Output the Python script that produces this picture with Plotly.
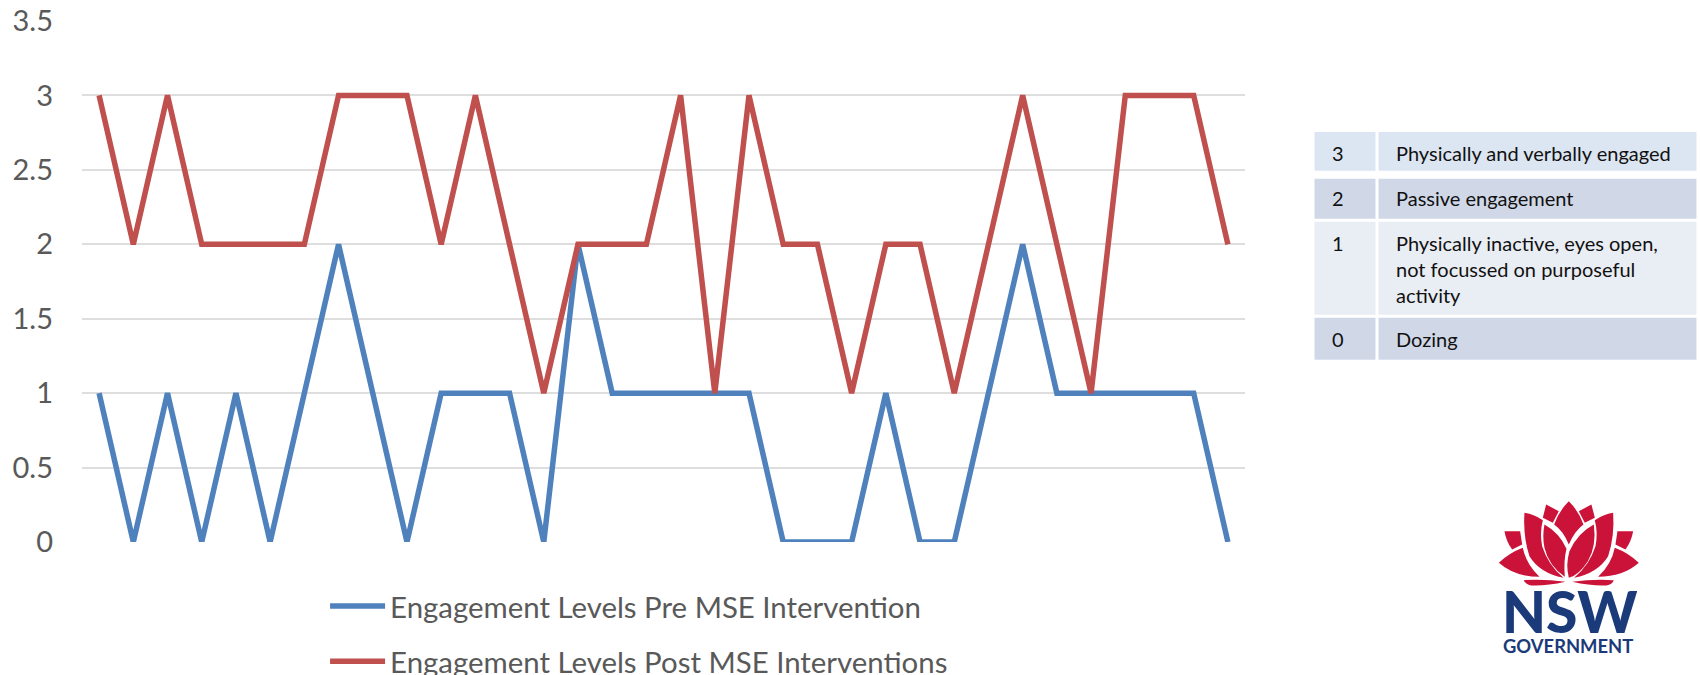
import plotly.graph_objects as go

categories = [str(i) for i in range(1, 35)]
pre_values = [1, 0, 1, 0, 1, 0, 1, 2, 1, 0, 1, 1, 1, 0, 2, 1, 1, 1, 1, 1, 0, 0, 0, 1, 0, 0, 1, 2, 1, 1, 1, 1, 1, 0]
post_values = [3, 2, 3, 2, 2, 2, 2, 3, 3, 3, 2, 3, 2, 1, 2, 2, 2, 3, 1, 3, 2, 2, 1, 2, 2, 1, 2, 3, 2, 1, 3, 3, 3, 2]
pre_name = "Engagement Levels Pre MSE Intervention"
post_name = "Engagement Levels Post MSE Interventions"
y_ticks = [0, 0.5, 1, 1.5, 2, 2.5, 3, 3.5]
y_labels = ["0", "0.5", "1", "1.5", "2", "2.5", "3", "3.5"]
key_scores = ["3", "2", "1", "0"]
key_lines = [["Physically and verbally engaged"], ["Passive engagement"],
             ["Physically inactive, eyes open,", "not focussed on purposeful", "activity"], ["Dozing"]]

W, H = 1700, 675
L, R, T, B = 82.4, 1245.5, 21.0, 542.5
FONT = "Lato"


def px(x):
    return (x - L) / (R - L)


def py(y):
    return (B - y) / (B - T)


def band(x0, y0, x1, y1, color):
    return dict(type="rect", xref="paper", yref="paper", x0=px(x0), x1=px(x1), y0=py(y1), y1=py(y0),
                fillcolor=color, line_width=0, layer="above")


def label(x, y, text, size, color, anchor="left", weight=None, height=None):
    font = dict(family=FONT, size=size, color=color)
    if weight:
        font["weight"] = weight
    note = dict(xref="paper", yref="paper", x=px(x), y=py(y), text=text, showarrow=False,
                xanchor=anchor, yanchor="middle", font=font, borderpad=0, borderwidth=0)
    if height:
        note["height"] = height
    return note


fig = go.Figure()
fig.add_trace(go.Scatter(x=categories, y=pre_values, mode="lines", name=pre_name, legendgroup="a",
                         line=dict(color="#4F81BD", width=5.5, shape="linear")))
fig.add_trace(go.Scatter(x=categories, y=post_values, mode="lines", name=post_name, legendgroup="b",
                         line=dict(color="#C0504D", width=5.5, shape="linear")))

shapes, notes = [], []
rows = [(132, 171, "#DCE6F2", [153]), (179, 219, "#D0D8E8", [198]),
        (222, 315, "#E9EDF4", [243, 269, 295]), (318, 360, "#D0D8E8", [339])]
for (y0, y1, col, ys), score, lines in zip(rows, key_scores, key_lines):
    shapes.append(band(1315, y0, 1376, y1, col))
    shapes.append(band(1379, y0, 1697, y1, col))
    notes.append(label(1333, ys[0], score, 20, "#111111"))
    for yy, line in zip(ys, lines):
        notes.append(label(1397, yy, line, 20, "#111111"))

# logo, outlined in a 3x zoom frame
def logo_path(d):
    out = []
    toks = d.split()
    for t in toks:
        if t[0] in "MQLZ":
            out.append(t[0])
            t = t[1:]
        if t:
            zx, zy = t.split(",")
            out.append(f"{px(1490 + float(zx) / 3):.5f},{py(490 + float(zy) / 3):.5f}")
    return " ".join(out)


def mirror(d):
    res = []
    for t in d.split():
        pre = ""
        if t[0] in "MQLZ":
            pre, t = t[0], t[1:]
        if t:
            zx, zy = t.split(",")
            t = f"{476 - float(zx)},{zy}"
        res.append(pre + t)
    return " ".join(res)


RED = "#CB1238"
centre = ["M238,35 Q268,65 282,105 Q255,125 238,165 Q222,125 194,105 Q208,65 238,35 Z",
          "M313,105 Q322,170 295,215 Q270,255 238,265 Q228,225 240,185 Q265,130 313,105 Z",
          "M165,105 Q210,130 231,178 Q222,215 226,262 Q178,230 165,175 Q158,140 165,105 Z"]
paired = ["M170,45 L208,65 L190,100 L160,85 Z",
          "M105,70 Q135,75 160,92 Q150,130 158,170 Q175,225 222,265 Q150,250 120,200 Q100,140 105,70 Z",
          "M28,220 Q60,190 100,175 Q110,225 150,262 Q75,262 28,220 Z",
          "M45,125 L92,125 L98,165 L68,180 Q50,155 45,125 Z",
          "M103,272 Q165,268 228,277 Q170,290 125,288 Q108,285 103,272 Z"]
for d in centre + paired + [mirror(p) for p in paired]:
    shapes.append(dict(type="path", xref="paper", yref="paper", path=logo_path(d),
                       fillcolor=RED, line_width=0, layer="above"))
notes.append(label(1570.5, 612, "NSW", 57, "#1B3A7A", "center", 900, height=44))
notes.append(label(1569, 647, "GOVERNMENT", 18.4, "#1B3A7A", "center", 700))

fig.update_layout(
    width=W, height=H, autosize=False,
    margin=dict(l=L, r=W - R, t=T, b=H - B, pad=0, autoexpand=False),
    paper_bgcolor="white", plot_bgcolor="white",
    font=dict(family=FONT, color="#595959", size=28),
    xaxis=dict(type="category", range=[-0.5, 33.5], showticklabels=False, showgrid=False,
               zeroline=False, showline=False, ticks=""),
    yaxis=dict(range=[0, 3.5], tickvals=y_ticks, ticktext=y_labels, showgrid=True, gridcolor="#DEDEDE",
               gridwidth=2, zeroline=False, showline=False, ticks="", ticklabelstandoff=28,
               tickfont=dict(family=FONT, size=29, color="#595959")),
    legend=dict(x=px(325.5), xanchor="left", y=py(581), yanchor="top",
                orientation="v", traceorder="grouped", tracegroupgap=14, itemwidth=55,
                font=dict(family=FONT, size=29.4, color="#595959"), bgcolor="rgba(0,0,0,0)"),
    shapes=shapes, annotations=notes, showlegend=True,
)
fig.write_html("out.html", config=dict(displayModeBar=False), post_script="document.body.style.margin='0';")
